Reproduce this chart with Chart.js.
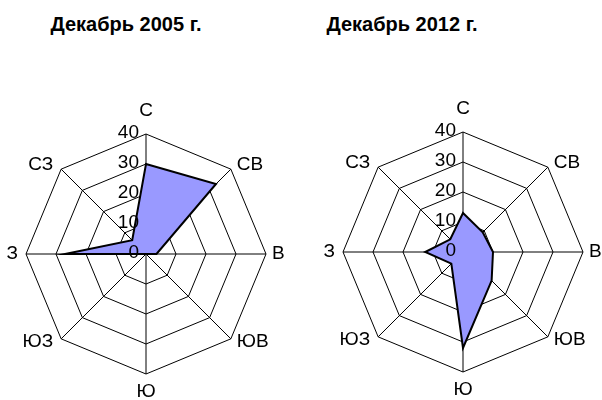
<!DOCTYPE html>
<html>
<head>
<meta charset="utf-8">
<script src="https://cdn.jsdelivr.net/npm/chart.js@4"></script>
<style>
  body { margin: 0; background: #fff; }
  #wrap { position: relative; width: 602px; height: 400px; font-family: "Liberation Sans", Arial, sans-serif; }
  .box { position: absolute; top: 0; width: 301px; height: 400px; }
  .title { position: absolute; top: 13px; font-size: 20px; font-weight: bold; white-space: nowrap; transform: translateX(-50%); }
</style>
</head>
<body>
<div id="wrap">
  <div class="title" id="t1" style="left:126px"></div>
  <div class="title" id="t2" style="left:402px"></div>
  <div class="box" style="left:0"><canvas id="c1" width="301" height="400"></canvas></div>
  <div class="box" style="left:301px"><canvas id="c2" width="301" height="400"></canvas></div>
</div>
<script>
const directions = ['С', 'СВ', 'В', 'ЮВ', 'Ю', 'ЮЗ', 'З', 'СЗ'];
const values2005 = [30, 33, 3.5, 0, 0, 0, 27, 6.5];
const values2012 = [13, 9.3, 10, 13.5, 32, 5.5, 12.6, 6];
const tickValues = [0, 10, 20, 30, 40];
const titles = ['Декабрь 2005 г.', 'Декабрь 2012 г.'];

document.getElementById('t1').textContent = titles[0];
document.getElementById('t2').textContent = titles[1];

// tick numbers and direction names drawn the way the old spreadsheet did
const radarText = {
    id: 'radarText',
    afterDatasetsDraw(chart) {
        const scale = chart.scales.r;
        const ctx = chart.ctx;
        ctx.save();
        ctx.font = '19px "Liberation Sans", Arial, sans-serif';
        ctx.fillStyle = '#000';

        ctx.textAlign = 'right';
        ctx.textBaseline = 'middle';
        tickValues.forEach(v => {
            const y = scale.yCenter - scale.getDistanceFromCenterForValue(v);
            ctx.fillText(String(v), scale.xCenter - 7, y - 1);
        });

        directions.forEach((name, i) => {
            const p = scale.getPointPosition(i, scale.drawingArea);
            const dx = p.x - scale.xCenter;
            const dy = p.y - scale.yCenter;
            let x = p.x, y = p.y;
            if (Math.abs(dx) < 1) {
                ctx.textAlign = 'center';
                y += dy < 0 ? -23.5 : 17.5;
            } else {
                ctx.textAlign = dx > 0 ? 'left' : 'right';
                x += dx > 0 ? 6 : -8;
                if (Math.abs(dy) > 1) y += dy < 0 ? -4.5 : 2.5;
            }
            ctx.fillText(name, x, y);
        });
        ctx.restore();
    }
};

function drawRadar(canvasId, values, padding) {
    return new Chart(document.getElementById(canvasId), {
        type: 'radar',
        data: {
            labels: directions,
            datasets: [{
                data: values,
                backgroundColor: '#9999ff',
                borderColor: '#000',
                borderWidth: 2,
                pointRadius: 0,
                fill: true
            }]
        },
        options: {
            responsive: false,
            animation: false,
            layout: { padding: padding },
            plugins: {
                legend: { display: false },
                tooltip: { enabled: false }
            },
            scales: {
                r: {
                    min: tickValues[0],
                    max: tickValues[tickValues.length - 1],
                    ticks: { display: false, stepSize: 10 },
                    grid: { color: '#000', lineWidth: 1 },
                    angleLines: { color: '#000', lineWidth: 1 },
                    pointLabels: { display: false }
                }
            }
        },
        plugins: [radarText]
    });
}

drawRadar('c1', values2005, { left: 26, right: 35, top: 134, bottom: 26 });
drawRadar('c2', values2012, { left: 42, right: 19, top: 132, bottom: 28 });
</script>
</body>
</html>
